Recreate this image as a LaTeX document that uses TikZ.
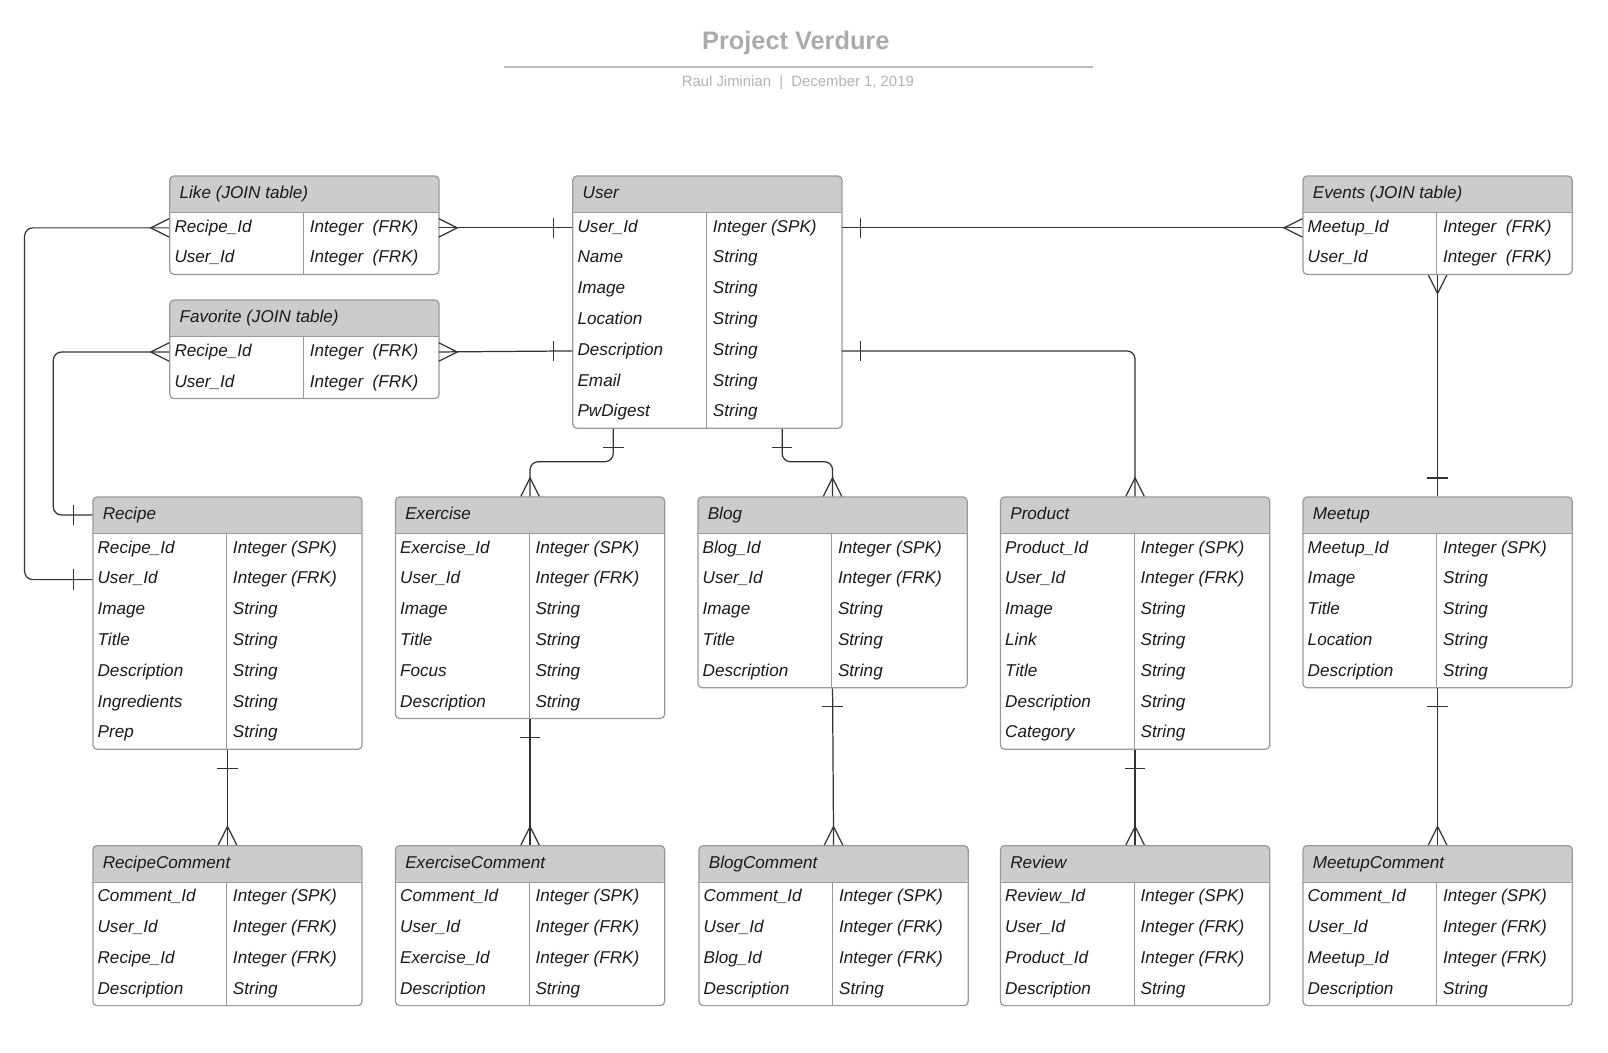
\documentclass[tikz,border=0pt]{standalone}
\usepackage{fontspec}
\setmainfont{Liberation Sans}
\usetikzlibrary{calc}
\definecolor{hdr}{HTML}{CCCCCC}
\definecolor{bord}{HTML}{999999}
\definecolor{lnk}{HTML}{333333}
\definecolor{ttl}{HTML}{ABABAB}
\definecolor{subg}{HTML}{B3B3B3}
\definecolor{ttlline}{HTML}{BBBBBB}
\definecolor{txt}{HTML}{1A1A1A}
\tikzset{
  tbl/.style={draw=bord, line width=1.2pt, fill=white, rounded corners=4pt, inner sep=0pt, anchor=north west, minimum width=262.5pt},
  rowslot/.style={inner sep=0pt, minimum width=262.5pt, minimum height=30pt, anchor=north west},
  hdrslot/.style={inner sep=0pt, minimum width=262.5pt, minimum height=36pt, anchor=north west},
  cell/.style={inner sep=0pt, anchor=west, text=txt, text height=12pt, text depth=3.5pt, font=\fontsize{16.7}{20}\selectfont\itshape},
  conline/.style={draw=lnk, line width=1.2pt},
  pics/crow/.style={code={\draw[conline] (0,9) -- (18,0) -- (0,-9);}},
  pics/onebar/.style={code={\draw[conline] (18,-10) -- (18,10);}},
}
\newcommand{\ertable}[6]{%
  \pgfmathsetmacro{\tabh}{36+30*#4}
  \node[tbl, minimum height=\tabh pt, path picture={\fill[hdr] (path picture bounding box.north west) rectangle ([yshift=-36pt]path picture bounding box.north east);}] (#1) at (#2,#3) {};
  \node[hdrslot] (#1-h) at (#1.north west) {};
  \draw[bord, line width=1.2pt] (#1-h.south west) -- (#1-h.south east);
  \draw[bord, line width=1.2pt] ([xshift=131pt]#1-h.south west) -- ([xshift=131pt]#1.south west);
  \node[cell] (#1-t) at ([xshift=10pt]#1-h.west) {#5};
  \foreach \ca/\cb [count=\i] in {#6} {
    \pgfmathsetmacro{\yy}{-36-30*(\i-1)}
    \node[rowslot] (#1-\i) at ([yshift=\yy pt]#1.north west) {};
    \node[cell] (#1-\i-a) at ([xshift=5pt]#1-\i.west) {\ca};
    \node[cell] (#1-\i-b) at ([xshift=137pt]#1-\i.west) {\cb};
  }
}
\begin{document}
\begin{tikzpicture}[x=1pt, y=-1pt]
\fill[white] (0,0) rectangle (1568,1026);
\useasboundingbox (0,0) rectangle (1568,1026);

% title
\node[font=\fontsize{24.7}{28}\selectfont\bfseries, text=ttl, inner sep=0pt, text height=18pt, text depth=5pt] (title) at (776,42) {Project Verdure};
\draw[ttlline, line width=2pt] (491,65) -- (1066,65);
\node[font=\fontsize{14.5}{17}\selectfont, text=subg, inner sep=0pt, text height=10.5pt, text depth=3pt] (sub) at (778,81) {Raul Jiminian~~|~~December 1, 2019};

% tables
\ertable{like}{165}{171}{2}{Like (JOIN table)}{Recipe\_Id/Integer~~(FRK), User\_Id/Integer~~(FRK)}
\ertable{fav}{165}{292}{2}{Favorite (JOIN table)}{Recipe\_Id/Integer~~(FRK), User\_Id/Integer~~(FRK)}
\ertable{user}{558}{171}{7}{User}{User\_Id/Integer (SPK), Name/String, Image/String, Location/String, Description/String, Email/String, PwDigest/String}
\ertable{events}{1270}{171}{2}{Events (JOIN table)}{Meetup\_Id/Integer~~(FRK), User\_Id/Integer~~(FRK)}
\ertable{recipe}{90}{484}{7}{Recipe}{Recipe\_Id/Integer (SPK), User\_Id/Integer (FRK), Image/String, Title/String, Description/String, Ingredients/String, Prep/String}
\ertable{exercise}{385}{484}{6}{Exercise}{Exercise\_Id/Integer (SPK), User\_Id/Integer (FRK), Image/String, Title/String, Focus/String, Description/String}
\ertable{blog}{680}{484}{5}{Blog}{Blog\_Id/Integer (SPK), User\_Id/Integer (FRK), Image/String, Title/String, Description/String}
\ertable{product}{975}{484}{7}{Product}{Product\_Id/Integer (SPK), User\_Id/Integer (FRK), Image/String, Link/String, Title/String, Description/String, Category/String}
\ertable{meetup}{1270}{484}{5}{Meetup}{Meetup\_Id/Integer (SPK), Image/String, Title/String, Location/String, Description/String}
\ertable{recipecomment}{90}{824}{4}{RecipeComment}{Comment\_Id/Integer (SPK), User\_Id/Integer (FRK), Recipe\_Id/Integer (FRK), Description/String}
\ertable{exercisecomment}{385}{824}{4}{ExerciseComment}{Comment\_Id/Integer (SPK), User\_Id/Integer (FRK), Exercise\_Id/Integer (FRK), Description/String}
\ertable{blogcomment}{681}{824}{4}{BlogComment}{Comment\_Id/Integer (SPK), User\_Id/Integer (FRK), Blog\_Id/Integer (FRK), Description/String}
\ertable{review}{975}{824}{4}{Review}{Review\_Id/Integer (SPK), User\_Id/Integer (FRK), Product\_Id/Integer (FRK), Description/String}
\ertable{meetupcomment}{1270}{824}{4}{MeetupComment}{Comment\_Id/Integer (SPK), User\_Id/Integer (FRK), Meetup\_Id/Integer (FRK), Description/String}

% connectors
\draw[conline, rounded corners=8pt] (like-1.west) -- ++(-141,0) |- (recipe-2.west);
\pic[rotate=180] at (like-1.west) {crow};
\pic[rotate=180] at (recipe-2.west) {onebar};

\draw[conline] (like-1.east) -- (user-1.west);
\pic at (like-1.east) {crow};
\pic[rotate=180] at (user-1.west) {onebar};

\draw[conline, rounded corners=8pt] (fav-1.west) -- ++(-113,0) |- (recipe-h.west);
\pic[rotate=180] at (fav-1.west) {crow};
\pic[rotate=180] at (recipe-h.west) {onebar};

\draw[conline] (fav-1.east) -- (user-5.west);
\pic at (fav-1.east) {crow};
\pic[rotate=180] at (user-5.west) {onebar};

\draw[conline] (user-1.east) -- (events-1.west);
\pic at (user-1.east) {onebar};
\pic[rotate=180] at (events-1.west) {crow};

\draw[conline, rounded corners=8pt] (user-5.east) -| (product.north);
\pic at (user-5.east) {onebar};
\pic[rotate=90] at (product.north) {crow};

\draw[conline, rounded corners=8pt] ([xshift=40pt]user.south west) -- ++(0,32) -| (exercise.north);
\pic[rotate=-90] at ([xshift=40pt]user.south west) {onebar};
\pic[rotate=90] at (exercise.north) {crow};

\draw[conline, rounded corners=8pt] ([xshift=-59pt]user.south east) -- ++(0,32) -| (blog.north);
\pic[rotate=-90] at ([xshift=-59pt]user.south east) {onebar};
\pic[rotate=90] at (blog.north) {crow};

\draw[conline] (events.south) -- (meetup.north);
\pic[rotate=-90] at (events.south) {crow};
\pic[rotate=90] at (meetup.north) {onebar};

\foreach \up/\lo in {recipe/recipecomment, exercise/exercisecomment, blog/blogcomment, product/review, meetup/meetupcomment} {
  \draw[conline] (\up.south) -- (\lo.north);
  \pic[rotate=-90] at (\up.south) {onebar};
  \pic[rotate=90] at (\lo.north) {crow};
}
\end{tikzpicture}
\end{document}
